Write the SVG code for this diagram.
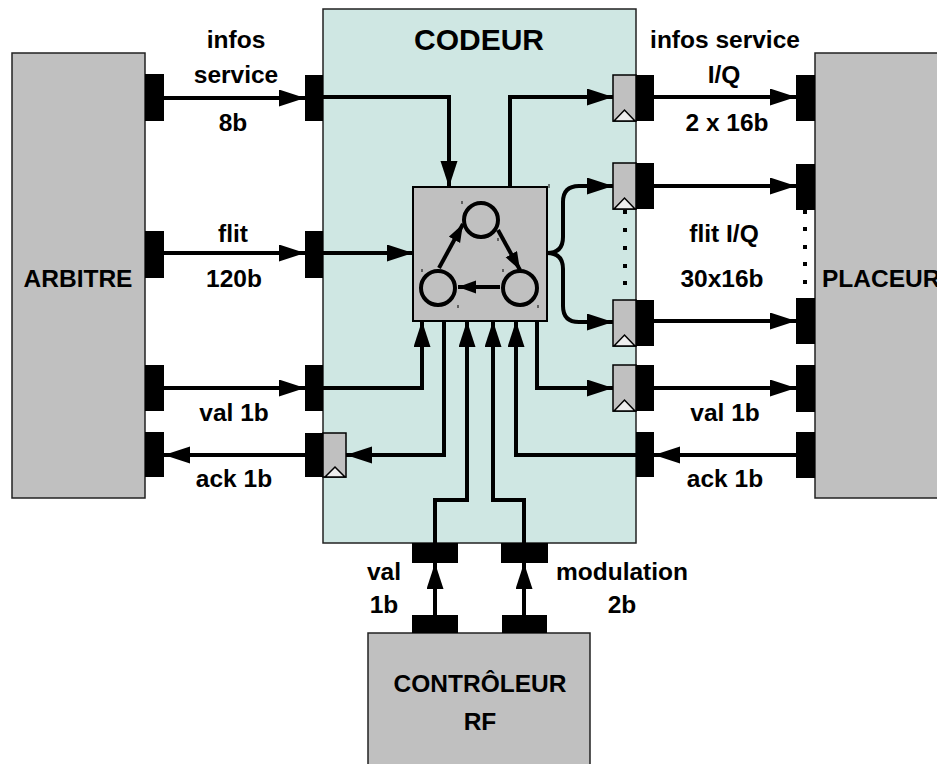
<svg xmlns="http://www.w3.org/2000/svg" width="937" height="764" viewBox="0 0 937 764">
<style>
text{font-family:"Liberation Sans",Arial,sans-serif;font-weight:bold;font-size:24.5px;fill:#000;text-anchor:middle}
.big{font-size:30px}
.blk{fill:#c0c0c0;stroke:#222;stroke-width:1.5}
.port{fill:#000}
.reg{fill:#c0c0c0;stroke:#000;stroke-width:1.5}
.clk{fill:#eee;stroke:#000;stroke-width:1.5}
.w{fill:none;stroke:#000;stroke-width:4}
.t{stroke:#000;stroke-width:1}
.dot{fill:#000}
</style>
<defs>
<marker id="ah" markerUnits="userSpaceOnUse" markerWidth="28" markerHeight="18" refX="26" refY="8.5" orient="auto"><path d="M0,0 L26,8.5 L0,17 z" fill="#000"/></marker>
<marker id="sh" markerUnits="userSpaceOnUse" markerWidth="20" markerHeight="14" refX="18" refY="6.5" orient="auto"><path d="M0,0 L18,6.5 L0,13 z" fill="#000"/></marker>
</defs>
<rect width="937" height="764" fill="#fff"/>

<g id="arbitre">
<rect class="blk" x="12" y="53" width="133" height="445"/>
<text x="78" y="287">ARBITRE</text>
<rect class="port" x="145" y="74" width="19" height="47"/>
<rect class="port" x="145" y="231" width="19" height="47"/>
<rect class="port" x="145" y="365" width="19" height="46"/>
<rect class="port" x="145" y="432" width="19" height="45"/>
</g>

<g id="placeur">
<rect class="blk" x="815" y="53" width="130" height="445"/>
<text x="822" y="287" style="text-anchor:start">PLACEUR</text>
<rect class="port" x="796" y="75" width="19" height="46"/>
<rect class="port" x="796" y="164" width="19" height="46"/>
<rect class="port" x="796" y="298" width="19" height="46"/>
<rect class="port" x="796" y="365" width="19" height="47"/>
<rect class="port" x="796" y="432" width="19" height="46"/>
<rect class="dot" x="803" y="210" width="4" height="4"/>
<rect class="dot" x="803" y="227" width="4" height="4"/>
<rect class="dot" x="803" y="245" width="4" height="4"/>
<rect class="dot" x="803" y="262" width="4" height="4"/>
<rect class="dot" x="803" y="280" width="4" height="4"/>
</g>

<g id="controleur">
<rect class="blk" x="368" y="633" width="222" height="140"/>
<text x="480" y="692">CONTRÔLEUR</text>
<text x="480" y="730">RF</text>
<rect class="port" x="412" y="615" width="46" height="18"/>
<rect class="port" x="502" y="615" width="45" height="18"/>
</g>

<g id="codeur">
<rect x="323" y="9" width="313" height="534" fill="#cfe7e3" stroke="#222" stroke-width="1.5"/>
<text class="big" x="479" y="50">CODEUR</text>
<rect class="port" x="305" y="75" width="18" height="46"/>
<rect class="port" x="305" y="231" width="18" height="47"/>
<rect class="port" x="305" y="365" width="18" height="46"/>
<rect class="port" x="305" y="433" width="18" height="44"/>
<rect class="reg" x="323" y="433" width="23" height="44"/>
<polygon class="clk" points="325,477 335,467 345,477"/>
<rect class="port" x="636" y="75" width="18" height="46"/>
<rect class="port" x="636" y="163" width="18" height="46"/>
<rect class="port" x="636" y="300" width="18" height="46"/>
<rect class="port" x="636" y="365" width="18" height="46"/>
<rect class="port" x="636" y="432" width="18" height="45"/>
<rect class="reg" x="613" y="75" width="23" height="46"/>
<polygon class="clk" points="614,121 624.5,110 635,121"/>
<rect class="reg" x="613" y="163" width="23" height="46"/>
<polygon class="clk" points="614,209 624.5,198 635,209"/>
<rect class="reg" x="613" y="300" width="23" height="46"/>
<polygon class="clk" points="614,346 624.5,335 635,346"/>
<rect class="reg" x="613" y="365" width="23" height="46"/>
<polygon class="clk" points="614,411 624.5,400 635,411"/>
<rect class="dot" x="623" y="210" width="4" height="4"/>
<rect class="dot" x="623" y="228" width="4" height="4"/>
<rect class="dot" x="623" y="246" width="4" height="4"/>
<rect class="dot" x="623" y="264" width="4" height="4"/>
<rect class="dot" x="623" y="281" width="4" height="4"/>
<rect class="port" x="412" y="543" width="46" height="20"/>
<rect class="port" x="501" y="543" width="47" height="20"/>
</g>

<g id="fsm">
<rect x="413" y="187" width="134" height="134" fill="#c0c0c0" stroke="#000" stroke-width="2"/>
<circle cx="481" cy="220" r="17" fill="none" stroke="#000" stroke-width="4"/>
<circle cx="438" cy="288" r="17" fill="none" stroke="#000" stroke-width="4"/>
<circle cx="520" cy="288" r="17" fill="none" stroke="#000" stroke-width="4"/>
<line class="w" x1="439" y1="268" x2="463" y2="224" marker-end="url(#sh)"/>
<line class="w" x1="498" y1="230" x2="520" y2="270" marker-end="url(#sh)"/>
<line class="w" x1="500" y1="287" x2="458" y2="287" marker-end="url(#sh)"/>
<line class="t" x1="549" y1="184" x2="549" y2="188"/>
<line class="t" x1="462" y1="201" x2="462" y2="204"/>
<line class="t" x1="498" y1="238" x2="498" y2="241"/>
<line class="t" x1="422" y1="269" x2="422" y2="272"/>
<line class="t" x1="503" y1="269" x2="503" y2="272"/>
<line class="t" x1="458" y1="305" x2="458" y2="308"/>
<line class="t" x1="538" y1="305" x2="538" y2="308"/>
</g>

<g id="connectors">
<line class="w" x1="164" y1="98" x2="305" y2="98" marker-end="url(#ah)"/>
<line class="w" x1="164" y1="253" x2="305" y2="253" marker-end="url(#ah)"/>
<line class="w" x1="164" y1="388" x2="305" y2="388" marker-end="url(#ah)"/>
<line class="w" x1="305" y1="455" x2="164" y2="455" marker-end="url(#ah)"/>
<line class="w" x1="654" y1="97" x2="796" y2="97" marker-end="url(#ah)"/>
<line class="w" x1="654" y1="186" x2="796" y2="186" marker-end="url(#ah)"/>
<line class="w" x1="654" y1="321" x2="796" y2="321" marker-end="url(#ah)"/>
<line class="w" x1="654" y1="388" x2="796" y2="388" marker-end="url(#ah)"/>
<line class="w" x1="796" y1="455" x2="654" y2="455" marker-end="url(#ah)"/>
<line class="w" x1="435" y1="615" x2="435" y2="563" marker-end="url(#ah)"/>
<line class="w" x1="524" y1="615" x2="524" y2="563" marker-end="url(#ah)"/>
<polyline class="w" points="323,97 449,97 449,187" marker-end="url(#ah)"/>
<line class="w" x1="323" y1="253" x2="413" y2="253" marker-end="url(#ah)"/>
<polyline class="w" points="323,388 422,388 422,321" marker-end="url(#ah)"/>
<polyline class="w" points="444,321 444,455 346,455" marker-end="url(#ah)"/>
<polyline class="w" points="435,543 435,500 467,500 467,321" marker-end="url(#ah)"/>
<polyline class="w" points="524,543 524,500 493,500 493,321" marker-end="url(#ah)"/>
<polyline class="w" points="636,455 516,455 516,321" marker-end="url(#ah)"/>
<polyline class="w" points="537,321 537,388 613,388" marker-end="url(#ah)"/>
<polyline class="w" points="510,187 510,97 613,97" marker-end="url(#ah)"/>
<path class="w" d="M547,253 Q563,253 563,237 L563,202 Q563,186 579,186 L613,186" marker-end="url(#ah)"/>
<path class="w" d="M547,253 Q563,253 563,269 L563,306 Q563,322 579,322 L613,322" marker-end="url(#ah)"/>
</g>

<g id="labels">
<text x="236" y="48">infos</text>
<text x="236" y="83">service</text>
<text x="233" y="131">8b</text>
<text x="233" y="242">flit</text>
<text x="234" y="287">120b</text>
<text x="234" y="421">val 1b</text>
<text x="234" y="487">ack 1b</text>
<text x="725" y="48">infos service</text>
<text x="724" y="83">I/Q</text>
<text x="727" y="131">2 x 16b</text>
<text x="724" y="242">flit I/Q</text>
<text x="722" y="287">30x16b</text>
<text x="725" y="421">val 1b</text>
<text x="725" y="487">ack 1b</text>
<text x="384" y="580">val</text>
<text x="384" y="613">1b</text>
<text x="622" y="580">modulation</text>
<text x="622" y="613">2b</text>
</g>
</svg>
